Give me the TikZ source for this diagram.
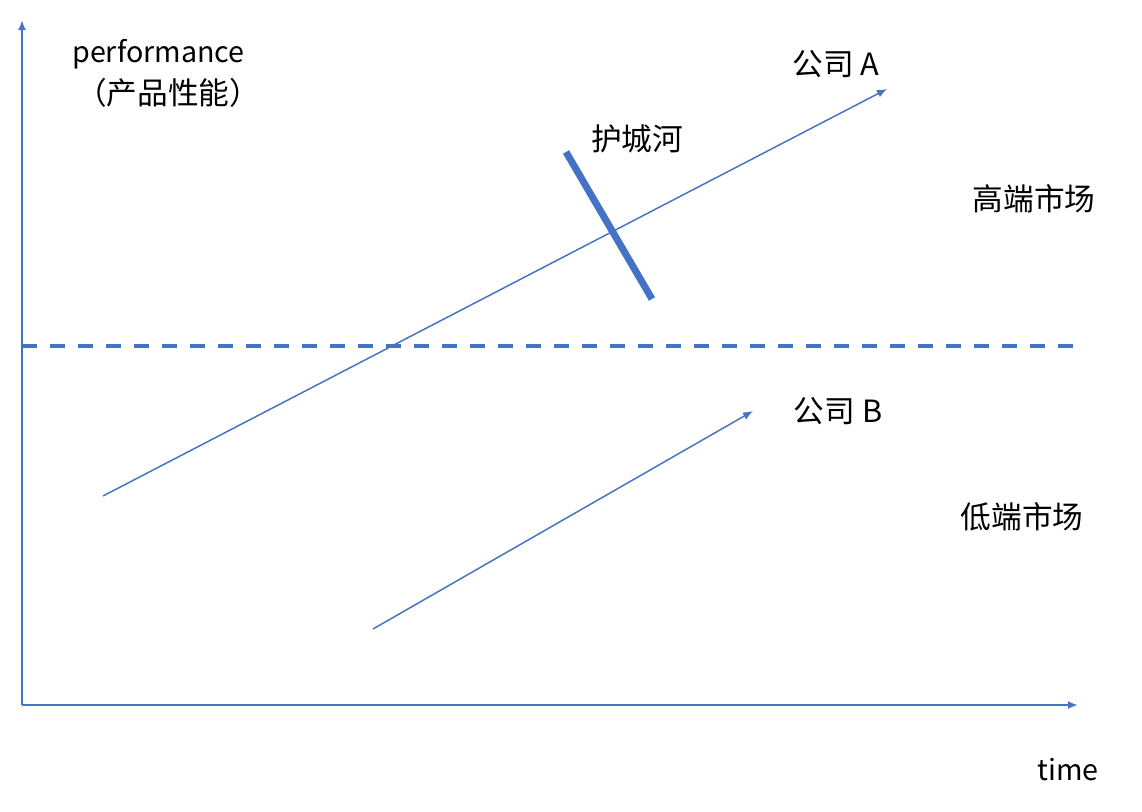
\documentclass[tikz,border=0pt]{standalone}
\usepackage{fontspec}
\setmainfont{Noto Sans CJK SC}
\usetikzlibrary{arrows.meta}
\definecolor{officeblue}{HTML}{4472C4}
\begin{document}
\begin{tikzpicture}[x=0.75pt,y=-0.75pt,
  axis/.style={officeblue,line width=1.5pt,-{Latex[length=7.5pt,width=6pt]}},
  trend/.style={officeblue,line width=1.1pt,-{Latex[length=7.5pt,width=6pt]}},
  lbl/.style={font=\fontsize{23}{27}\selectfont,inner sep=0pt},
  latin/.style={font=\fontsize{21.5}{26}\selectfont,inner sep=0pt}]
\useasboundingbox (0,0) rectangle (1142,812);

% Axes
\coordinate (origin) at (22,705);
\coordinate (ytop) at (22,20);
\coordinate (xend) at (1078,705);
\draw[axis] (origin) -- (ytop);
\draw[axis] (origin) -- (xend);
\node[latin,anchor=west] (perf) at (72,54) {performance};
\node[lbl,anchor=west] (perfcn) at (76,93) {（产品性能）};
\node[latin] (time) at (1068,770) {time};

% Market boundary
\coordinate (bl) at (22,346);
\coordinate (br) at (1075,346);
\draw[officeblue,line width=3pt,dash pattern=on 11.25pt off 9.75pt] (bl) -- (br);
\node[lbl] (high) at (1034,199) {高端市场};
\node[lbl] (low) at (1022,517) {低端市场};

% Company A
\coordinate (a0) at (103,496);
\coordinate (a1) at (887,89);
\draw[trend] (a0) -- (a1);
\node[lbl] (compA) at (836,64) {公司 A};

% Moat
\coordinate (m0) at (566,152);
\coordinate (m1) at (652,299);
\draw[officeblue,line width=5.25pt] (m0) -- (m1);
\node[lbl] (moat) at (637,139) {护城河};

% Company B
\coordinate (b0) at (373,629);
\coordinate (b1) at (753,411);
\draw[trend] (b0) -- (b1);
\node[lbl] (compB) at (838,411) {公司 B};

\end{tikzpicture}
\end{document}
